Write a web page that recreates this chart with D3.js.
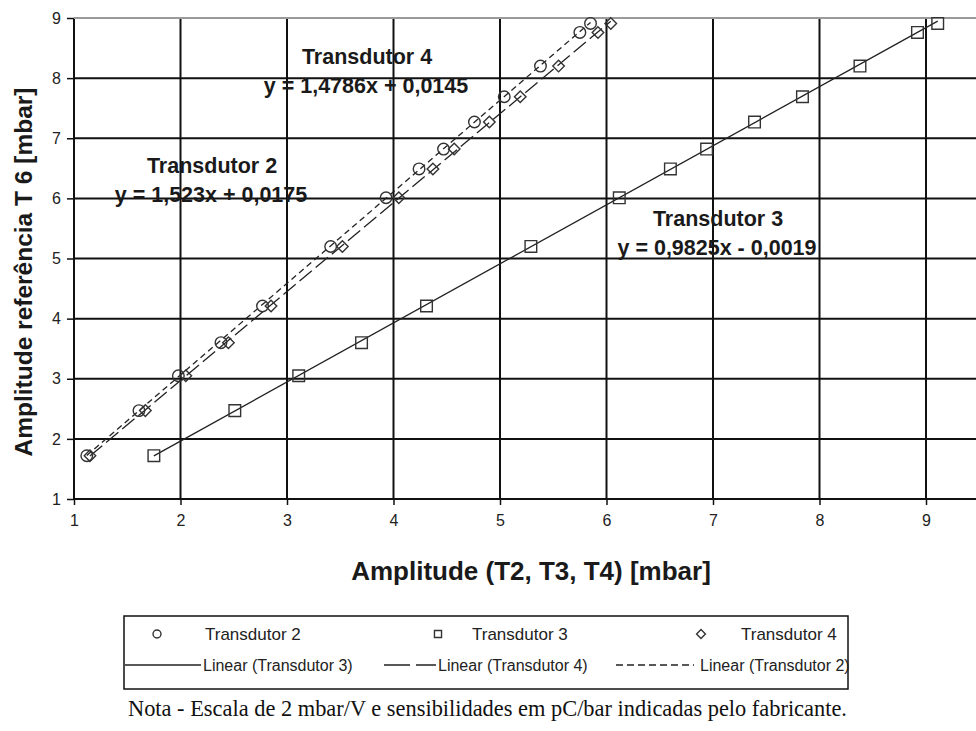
<!DOCTYPE html>
<html>
<head>
<meta charset="utf-8">
<script src="https://cdn.jsdelivr.net/npm/d3@7"></script>
<style>
  body { margin: 0; background: #fff; }
  svg { display: block; }
</style>
</head>
<body>
<svg id="chart" width="976" height="731"></svg>
<script>
// Reference amplitude from transducer T6 (mbar), one value per measurement
const refT6 = [1.72, 2.47, 3.05, 3.60, 4.21, 5.20, 6.01, 6.49, 6.82, 7.27, 7.69, 8.20, 8.76, 8.91];
// Amplitudes measured by the transducers under test (mbar)
const ampT2 = [1.12, 1.61, 1.98, 2.38, 2.77, 3.41, 3.93, 4.24, 4.47, 4.76, 5.04, 5.38, 5.75, 5.85];
const ampT3 = [1.75, 2.51, 3.11, 3.70, 4.31, 5.29, 6.12, 6.60, 6.94, 7.39, 7.84, 8.38, 8.92, 9.11];
const ampT4 = [1.15, 1.67, 2.05, 2.45, 2.85, 3.52, 4.05, 4.37, 4.57, 4.90, 5.19, 5.55, 5.92, 6.04];
// Linear trendlines: [slope, intercept]
const fitT2 = [1.523, 0.0175];
const fitT3 = [0.9825, -0.0019];
const fitT4 = [1.4786, 0.0145];
// Axis ticks
const xTicks = [1, 2, 3, 4, 5, 6, 7, 8, 9];
const yTicks = [1, 2, 3, 4, 5, 6, 7, 8, 9];
const seriesNames = ["Transdutor 2", "Transdutor 3", "Transdutor 4"];
const trendNames = ["Linear (Transdutor 3)", "Linear (Transdutor 4)", "Linear (Transdutor 2)"];
const xTitle = "Amplitude (T2, T3, T4) [mbar]";
const yTitle = "Amplitude referência T 6  [mbar]";
const noteText = "Nota - Escala de 2 mbar/V e sensibilidades em pC/bar indicadas pelo fabricante.";

const svg = d3.select("#chart");
const SANS = "'Liberation Sans', Arial, sans-serif";
const SERIF = "'Liberation Serif', 'Times New Roman', serif";

// Plot area; the x axis runs on past the right edge of the page
const plot = { left: 74, top: 18, bottom: 499 };
const x = d3.scaleLinear().domain([1, 10]).range([plot.left, plot.left + 9 * 106.5]);
const y = d3.scaleLinear().domain([1, 9]).range([plot.bottom, plot.top]);

// Grid
const grid = svg.append("g");
grid.selectAll("line.v").data(d3.range(1, 11)).join("line")
  .attr("x1", d => x(d)).attr("x2", d => x(d))
  .attr("y1", y(9)).attr("y2", y(1))
  .attr("stroke", "#111").attr("stroke-width", 2);
grid.selectAll("line.h").data(yTicks).join("line")
  .attr("x1", x(1)).attr("x2", 980)
  .attr("y1", d => y(d)).attr("y2", d => y(d))
  .attr("stroke", d => d === 9 ? "#9a9a9a" : "#111").attr("stroke-width", 2);

// Axes (ticks and labels only, the gridlines carry the lines)
const xAxis = svg.append("g").attr("transform", `translate(0,${plot.bottom})`)
  .call(d3.axisBottom(x).tickValues(xTicks).tickSize(6).tickPadding(10).tickFormat(d3.format("d")));
const yAxis = svg.append("g").attr("transform", `translate(${plot.left},0)`)
  .call(d3.axisLeft(y).tickValues(yTicks).tickSize(7).tickPadding(6).tickFormat(d3.format("d")));
[xAxis, yAxis].forEach(a => {
  a.select(".domain").remove();
  a.selectAll(".tick line").attr("stroke", "#111").attr("stroke-width", 1.5);
  a.selectAll(".tick text").attr("font-family", SANS).attr("font-size", 16).attr("fill", "#222");
});

// Trendlines drawn over each series' x range
const lineStyles = { T2: "6,4", T3: null, T4: "16,5" };
function trend(fit, xs, dash) {
  const x0 = d3.min(xs), x1 = d3.max(xs);
  svg.append("line")
    .attr("x1", x(x0)).attr("y1", y(fit[0] * x0 + fit[1]))
    .attr("x2", x(x1)).attr("y2", y(fit[0] * x1 + fit[1]))
    .attr("stroke", "#222").attr("stroke-width", 1.3)
    .attr("stroke-dasharray", dash);
}
trend(fitT3, ampT3, lineStyles.T3);
trend(fitT4, ampT4, lineStyles.T4);
trend(fitT2, ampT2, lineStyles.T2);

// Markers
const markStroke = { stroke: "#333", "stroke-width": 1.4, fill: "none" };
function applyStroke(sel) { Object.entries(markStroke).forEach(([k, v]) => sel.attr(k, v)); return sel; }
const symCircle = d3.symbol().type(d3.symbolCircle).size(105);
const symSquare = d3.symbol().type(d3.symbolSquare).size(135);
const symDiamond = d3.symbol().type(d3.symbolDiamond2).size(85);
function markers(xs, sym) {
  applyStroke(svg.append("g").selectAll("path").data(xs.map((v, i) => [v, refT6[i]])).join("path")
    .attr("transform", d => `translate(${x(d[0])},${y(d[1])})`)
    .attr("d", sym));
}
markers(ampT3, symSquare);
markers(ampT4, symDiamond);
markers(ampT2, symCircle);

// Trendline equations
const fmt = v => String(Math.abs(v)).replace(".", ",");
const eq = f => `y = ${fmt(f[0])}x ${f[1] < 0 ? "-" : "+"} ${fmt(f[1])}`;
const notes = [
  { name: seriesNames[2], fit: fitT4, cx: 367, cy: 64 },
  { name: seriesNames[0], fit: fitT2, cx: 212, cy: 173 },
  { name: seriesNames[1], fit: fitT3, cx: 718, cy: 226 }
];
notes.forEach(n => {
  const t = svg.append("g").attr("font-family", SANS).attr("font-weight", "bold")
    .attr("font-size", 21.5).attr("fill", "#1a1a1a").attr("text-anchor", "middle");
  t.append("text").attr("x", n.cx).attr("y", n.cy).text(n.name);
  t.append("text").attr("x", n.cx - 1).attr("y", n.cy + 29).text(eq(n.fit));
});

// Axis titles
svg.append("text").attr("x", 531).attr("y", 580).attr("text-anchor", "middle")
  .attr("font-family", SANS).attr("font-weight", "bold").attr("font-size", 26)
  .attr("fill", "#1a1a1a").text(xTitle);
svg.append("text").attr("transform", "translate(32,272) rotate(-90)").attr("text-anchor", "middle")
  .attr("font-family", SANS).attr("font-weight", "bold").attr("font-size", 24.5)
  .attr("fill", "#1a1a1a").text(yTitle);

// Legend
const lg = svg.append("g");
lg.append("rect").attr("x", 124).attr("y", 616).attr("width", 724).attr("height", 73)
  .attr("fill", "#fff").attr("stroke", "#111").attr("stroke-width", 1.5);
const row1 = [
  { sym: symCircle, mx: 157, tx: 205, label: seriesNames[0] },
  { sym: symSquare, mx: 438, tx: 472, label: seriesNames[1] },
  { sym: symDiamond, mx: 701, tx: 741, label: seriesNames[2] }
];
row1.forEach(r => {
  applyStroke(lg.append("path").attr("transform", `translate(${r.mx},634)`)
    .attr("d", d3.symbol().type(r.sym.type()).size(50)));
  lg.append("text").attr("x", r.tx).attr("y", 640).attr("font-family", SANS)
    .attr("font-size", 17).attr("fill", "#222").text(r.label);
});
const row2 = [
  { x0: 125, x1: 201, tx: 203, dash: lineStyles.T3, label: trendNames[0] },
  { x0: 384, x1: 436, tx: 438, dash: "26,6", label: trendNames[1] },
  { x0: 616, x1: 694, tx: 700, dash: "7,4", label: trendNames[2] }
];
row2.forEach(r => {
  lg.append("line").attr("x1", r.x0).attr("x2", r.x1).attr("y1", 665).attr("y2", 665)
    .attr("stroke", "#222").attr("stroke-width", 1.3).attr("stroke-dasharray", r.dash);
  lg.append("text").attr("x", r.tx).attr("y", 671).attr("font-family", SANS)
    .attr("font-size", 16).attr("fill", "#222").text(r.label);
});

// Footnote
svg.append("text").attr("x", 128).attr("y", 716).attr("font-family", SERIF)
  .attr("font-size", 22.4).attr("fill", "#111").text(noteText);
</script>
</body>
</html>
